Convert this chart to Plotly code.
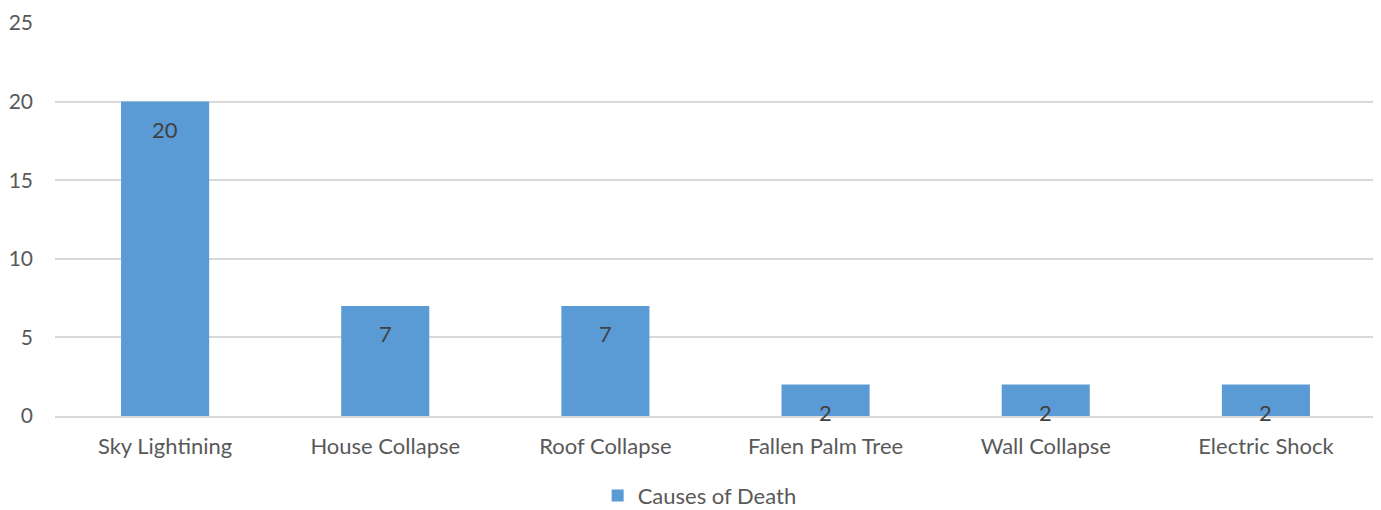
import plotly.graph_objects as go

categories = ["Sky Lightining", "House Collapse", "Roof Collapse", "Fallen Palm Tree", "Wall Collapse", "Electric Shock"]
deaths = [20, 7, 7, 2, 2, 2]
series_name = "Causes of Death"
y_ticks = [0, 5, 10, 15, 20, 25]

FONT = "Lato"
FS = 22
fig = go.Figure()
fig.add_trace(go.Bar(
    x=categories, y=deaths, name=series_name,
    marker=dict(color="#5B9BD5", line=dict(width=0)),
    width=0.4,
))
for c, v in zip(categories, deaths):
    fig.add_annotation(x=c, y=v, text=str(v), showarrow=False, yanchor="middle",
                       yshift=-28, font=dict(family=FONT, size=FS, color="#404040"))

fig.update_layout(
    width=1373, height=502,
    margin=dict(l=47, r=5, t=15, b=94, autoexpand=False),
    plot_bgcolor="white", paper_bgcolor="white",
    font=dict(family=FONT, size=FS, color="#595959"),
    showlegend=True,
    legend=dict(orientation="h", x=0.488, xanchor="center", y=-0.203, yanchor="middle",
                itemwidth=30, borderwidth=0,
                font=dict(family=FONT, size=FS, color="#595959")),
    yaxis=dict(range=[0, 25], tickvals=y_ticks, showgrid=True, gridcolor="#D9D9D9",
               gridwidth=1.5, zeroline=False, showline=False, ticks="", ticklabelstandoff=21,
               automargin=False, tickfont=dict(size=21)),
    xaxis=dict(showline=True, linecolor="#D9D9D9", linewidth=1.5, ticks="", ticklabelstandoff=10,
               automargin=False, tickfont=dict(size=FS)),
    bargap=0.6,
)
fig.write_html("out.html")
